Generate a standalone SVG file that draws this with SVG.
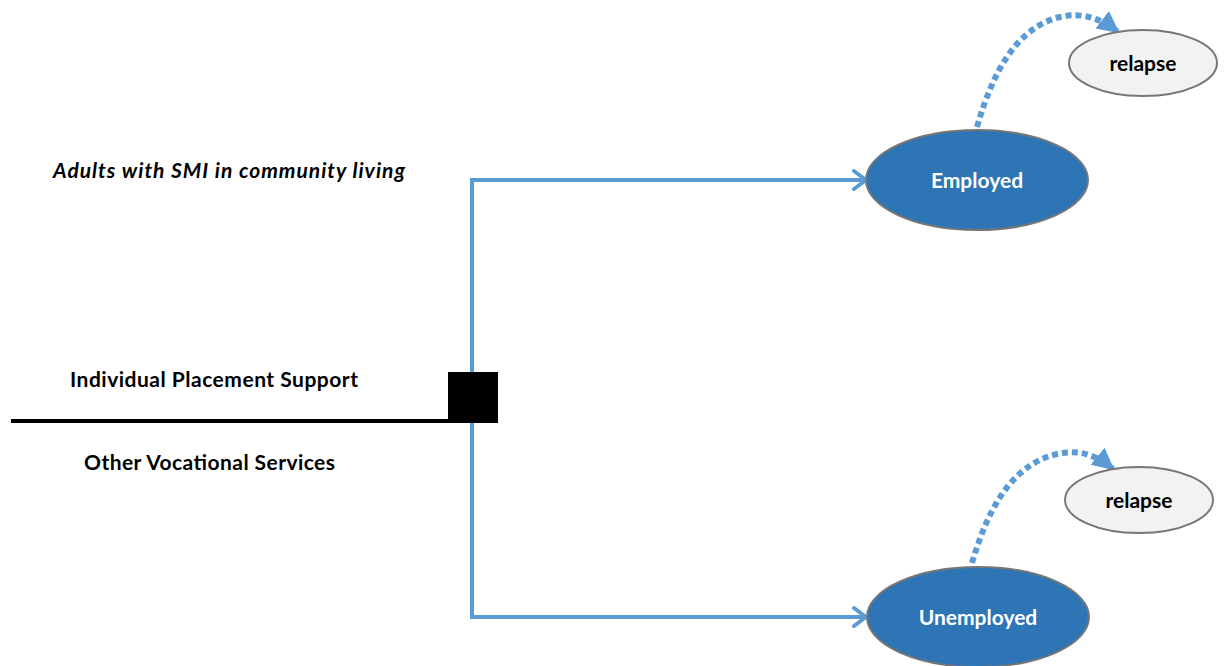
<svg xmlns="http://www.w3.org/2000/svg" width="1224" height="666" viewBox="0 0 1224 666">
<style>
.t{font-family:Lato,"Liberation Sans",sans-serif;font-weight:bold;font-size:21px;fill:#000}
.w{fill:#fff}
.big{fill:#2E75B6;stroke:#767676;stroke-width:2}
.small{fill:#F2F2F2;stroke:#767676;stroke-width:2}
.flow{fill:none;stroke:#5B9BD5;stroke-width:4}
.dot{fill:none;stroke:#5B9BD5;stroke-width:6;stroke-dasharray:6 4}
</style>
<defs>
<marker id="open" markerUnits="userSpaceOnUse" markerWidth="20" markerHeight="24" refX="18" refY="12" orient="auto">
<path d="M6,3 L18,12 L6,21" fill="none" stroke="#5B9BD5" stroke-width="4" stroke-linecap="round" stroke-linejoin="round"/>
</marker>
<marker id="tri" markerUnits="userSpaceOnUse" markerWidth="24" markerHeight="26" refX="20" refY="13" orient="auto">
<path d="M0,2 L22,13 L0,24 Z" fill="#5B9BD5"/>
</marker>
</defs>
<g id="labels">
<text class="t" x="53" y="178" font-style="italic" textLength="352">Adults with SMI in community living</text>
<text class="t" x="70" y="387" textLength="288">Individual Placement Support</text>
<text class="t" x="84" y="470" textLength="251">Other Vocational Services</text>
</g>
<g id="connectors">
<line x1="11" y1="421" x2="449" y2="421" stroke="#000" stroke-width="4"/>
<path class="flow" d="M472,372 V180 H866" marker-end="url(#open)"/>
<path class="flow" d="M472,423 V617 H866" marker-end="url(#open)"/>
<path class="dot" d="M977,127 C992,75 1015,28 1060,17 C1082,12 1100,18 1118,32" marker-end="url(#tri)"/>
<path class="dot" d="M972,563 C987,512 1010,465 1057,454 C1079,449 1096,455 1113,469" marker-end="url(#tri)"/>
</g>
<g id="decision">
<rect x="448" y="372" width="50" height="51" fill="#000"/>
</g>
<g id="employed">
<ellipse class="big" cx="977" cy="180" rx="111" ry="50"/>
<text class="t w" x="977" y="188" text-anchor="middle">Employed</text>
</g>
<g id="unemployed">
<ellipse class="big" cx="978" cy="617" rx="111" ry="50"/>
<text class="t w" x="978" y="625" text-anchor="middle">Unemployed</text>
</g>
<g id="relapse1">
<ellipse class="small" cx="1143" cy="63" rx="74" ry="33"/>
<text class="t" x="1143" y="71" text-anchor="middle">relapse</text>
</g>
<g id="relapse2">
<ellipse class="small" cx="1139" cy="500" rx="74" ry="33"/>
<text class="t" x="1139" y="508" text-anchor="middle">relapse</text>
</g>
</svg>
